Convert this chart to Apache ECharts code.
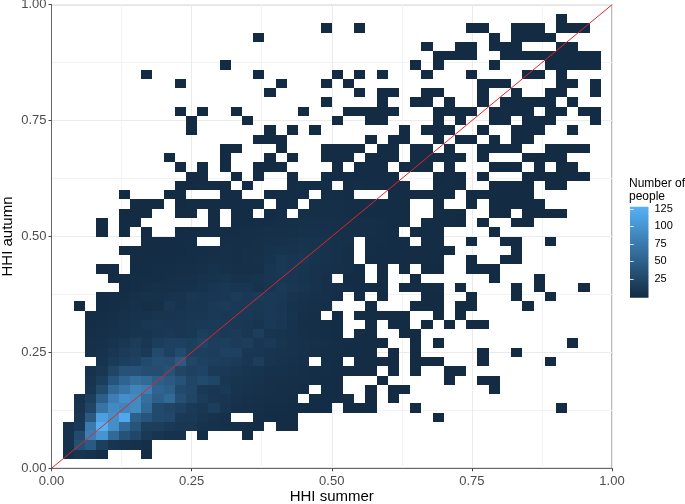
<!DOCTYPE html>
<html>
<head>
<meta charset="utf-8">
<style>html,body{margin:0;background:#fff}#chart{width:685px;height:504px}</style>
<script src="https://cdn.jsdelivr.net/npm/echarts@6/dist/echarts.min.js"></script>
</head>
<body>
<div id="chart"></div>
<script>
// 50 x 50 bins over [0,1]. Each row is a list of runs: [first column, count, count, ...]
var binSize = 0.02;
var row00 = [];
var row01 = [[1,6,10,8,5],[8,2]];
var row02 = [[1,8,35,45,20,10,8,7,5]];
var row03 = [[1,8,30,80,100,60,38,28,14,10,8,8],[13,3],[17,2]];
var row04 = [[1,8,14,75,125,95,60,40,20,18,14,12,12,8,7,6,5,4,3],[20,2,2]];
var row05 = [[2,12,45,110,95,118,50,40,30,28,15,14,10,8,6],[18,4,3,2,2],[34,1]];
var row06 = [[2,10,25,70,90,85,90,60,30,25,22,15,12,18,10,7,6,5,4,4,3,3,3,3],[26,1,1,1],[32,1],[45,1]];
var row07 = [[2,8,20,50,80,95,90,65,50,60,35,25,17,12,11,8,7,6,5,5,4],[23,3,3,2,2],[28,1],[30,1]];
var row08 = [[3,12,30,60,70,85,80,55,50,30,27,14,12,14,9,8,7,6,5,5,4],[24,3,2],[28,1],[30,1,1],[39,1]];
var row09 = [[3,10,18,40,55,65,60,50,45,38,25,30,26,12,10,9,8,6,6,5,5,4,3,2],[29,1],[35,1],[38,1,1]];
var row10 = [[3,8,12,25,38,38,33,33,38,25,22,24,15,14,12,10,9,7,7,6,5,4,4,3,2,2,2],[30,1],[32,1],[35,1,1]];
var row11 = [[4,9,15,20,22,30,35,33,45,25,22,20,18,16,12,18,10,8,7,6],[24,4,3],[27,2,2,2,1],[32,1,1,1],[38,1],[44,1]];
var row12 = [[3,6,8,12,16,19,14,30,22,30,20,20,18,22,22,12,12,10,9,8,7,5,4,4,3,3,2],[30,1],[32,1],[38,1],[41,1]];
var row13 = [[3,6,7,9,12,17,12,18,22,22,20,24,18,20,16,18,12,14,10,8,7,6,5,4,3,3,2,2],[32,1],[34,1],[46,1]];
var row14 = [[3,5,6,7,8,10,10,12,14,12,13,20,16,14,16,12,18,10,9,8,6,5,4,3],[27,2,2],[31,1,1]];
var row15 = [[3,4,5,6,8,9,12,13,12,12,13,14,15,14,13,12,10,14,12,8,5,5,4,3],[28,2],[30,1,1],[33,1],[35,1],[37,1,1]];
var row16 = [[3,4,4,5,7,8,8,10,10,11,12,12,14,13,14,14,12,14,13,9,6,5],[25,3],[27,2,2,2,2,1],[34,1],[36,1]];
var row17 = [[2,1],[4,3,4,5,7,5,6,12,9,11,11,14,16,14,14,13,14,12,8,7,6,5],[28,2],[32,1,1,1],[36,1,1],[42,1]];
var row18 = [[4,3,4,4,6,7,7,8,9,12,11,12,13,16,14,15,14,13,10,8,7,6,4],[27,2],[29,2],[33,1,1],[37,1],[41,1],[44,1]];
var row19 = [[6,3,4,5,6,6,7,7,9,11,13,11,11,8,10,14,12,10,8,6,5,4,3,3,2],[31,1,2,2,2],[36,1],[41,1],[43,1],[47,1]];
var row20 = [[5,2,3,4,4,4,5,6,6,8,9,10,8,8,9,11,12,11,9,8,6],[26,3,3],[29,2],[32,1],[39,1],[43,1]];
var row21 = [[4,1,2],[7,3,3,4,4,5,5,6,8,7,6,6,6,11,13,11,10,8,7,6,5,3],[29,2],[31,2],[33,1,1],[37,1,1,1]];
var row22 = [[7,2,2,3,3,4,4,5,6,6,5,6,7,9,13,11,12,9,8,7,5],[28,3,3,2,2,2,2,2],[37,1],[40,1,1]];
var row23 = [[6,1,2,2,2,3,3,4,4,5,6,5,6,6,8,9,9,10,9,8,7,5],[28,4,3,3,2,2,2,2,1],[41,1]];
var row24 = [[8,2,2,2,3,3],[15,5,5,5,6,7,7,8,9,9,8,7,6],[28,4,4,3,3],[33,2,2],[37,1],[40,1,1],[44,1]];
var row25 = [[4,1],[6,1],[8,1],[11,2,2,3,3,4,4,5,5,6,6,6,7,7,7,6,6,5,5,4,3],[32,1,2,2],[39,1]];
var row26 = [[4,1],[6,1,1],[14,2],[16,3,3,4,4,5,5,6,6,6,6,5,5,5,4,3,2],[33,2,2,2,1],[38,1],[41,1,1]];
var row27 = [[6,1,1,1],[11,2,2],[14,2],[16,2,3],[19,3,4],[22,5,5,5,5,4,4,3,3,3,2],[34,2,2,1],[39,1,1],[42,1,1,1,1]];
var row28 = [[7,1,1,1],[11,1,2,2,2,2,3,3,3],[20,3,4],[23,5,5,5,4,4,4,3,3,2],[34,1],[37,1],[39,1,1,1,1,1]];
var row29 = [[6,1],[10,1,1],[15,2,2],[19,3,3,3,4],[24,4,4,3],[30,3,3,2,2,2,1],[37,1,1,1,1,1,1]];
var row30 = [[11,1,1,2,2,2],[17,2],[21,3,3,3,4],[26,3,4,3,3,2,2],[34,2,2,1],[39,1,1,1,1],[44,1,1]];
var row31 = [[12,1,1],[16,1],[18,2],[21,2],[24,3,3,3,3,3,2,2],[34,1,2,1],[38,1],[42,1,1,1,1,1,1]];
var row32 = [[11,1],[13,1],[15,1],[18,1,1,2],[25,2],[27,3,2,2],[31,2,2,2],[35,2],[39,1,1,1],[43,1],[45,1,1]];
var row33 = [[10,1],[15,1],[19,1],[21,1],[24,2,2,2],[28,2,2,2],[32,2,2,2,3,1],[38,1],[42,1,1,1,1]];
var row34 = [[15,1,1],[20,1],[24,2,2,2,2],[29,1,2],[32,2,2],[35,2],[38,1,1,1,1],[44,1,1,1,1]];
var row35 = [[18,1,1,1],[28,1],[30,1,1],[34,1],[36,1,1],[39,1],[41,1,1]];
var row36 = [[12,1],[19,1],[21,1],[23,1],[31,1],[33,1,1,1],[38,1],[41,1,1,1],[46,1]];
var row37 = [[12,1],[17,1],[25,1],[28,1,1],[34,1],[36,1],[39,1,1],[42,1,1,1],[48,1]];
var row38 = [[11,1],[13,1],[16,1],[22,1],[26,1,1,1,1,1],[34,1,1,1,1],[39,1,2,1,1],[44,1,1],[47,1,1]];
var row39 = [[24,1],[29,1],[32,1,1],[35,1],[38,1],[40,1,1,1,1,1],[46,1]];
var row40 = [[19,1],[27,1],[29,1,1],[33,1,1],[38,1],[41,1],[44,1,1],[48,1]];
var row41 = [[11,1],[20,1],[24,1],[26,1],[38,1,1,1],[45,1,1],[48,1]];
var row42 = [[8,1],[18,1],[25,1],[27,1],[29,1],[33,1],[37,1],[42,1,1],[45,1]];
var row43 = [[15,1],[32,1],[34,1],[39,1],[44,1,2,1,1,1]];
var row44 = [[34,1,1,1,1],[40,1,1,1,1,1,1,1,1,1]];
var row45 = [[33,1],[36,1,1],[39,1,1,1],[45,1,1]];
var row46 = [[18,1],[39,1],[41,1,1,1,1]];
var row47 = [[24,1],[27,1],[37,1,1],[41,1,1,1],[45,1,1,1]];
var row48 = [[45,1]];

var allRows = [row00,row01,row02,row03,row04,row05,row06,row07,row08,row09,
    row10,row11,row12,row13,row14,row15,row16,row17,row18,row19,
    row20,row21,row22,row23,row24,row25,row26,row27,row28,row29,
    row30,row31,row32,row33,row34,row35,row36,row37,row38,row39,
    row40,row41,row42,row43,row44,row45,row46,row47,row48];

var diagonal = [[0,0],[1,1]];
var legendTicks = [25, 50, 75, 100, 125];
var lowColor = '#132B43';
var highColor = '#56B1F7';
var fontName = '"Liberation Sans", Arial, sans-serif';

//把行数据展开成 [x, y, count]
var cells = [];
allRows.forEach(function (runs, r) {
    runs.forEach(function (run) {
        for (var i = 1; i < run.length; i++) {
            cells.push([(run[0] + i - 1) * binSize, r * binSize, run[i]]);
        }
    });
});

//边缘取整，否则相邻格子之间会出现白线
function renderCell(params, api) {
    var p0 = api.coord([api.value(0), api.value(1)]);
    var p1 = api.coord([api.value(0) + binSize, api.value(1) + binSize]);
    var x0 = Math.round(p0[0]), x1 = Math.round(p1[0]);
    var y0 = Math.round(p0[1]), y1 = Math.round(p1[1]);
    return {
        type: 'rect',
        shape: { x: x0, y: y1, width: x1 - x0, height: y0 - y1 },
        style: { fill: api.visual('color') }
    };
}

function renderLegendBar(params, api) {
    var p0 = api.coord([0, api.value(0)]);
    var p1 = api.coord([1, api.value(1)]);
    return {
        type: 'rect',
        shape: { x: p0[0], y: p1[1], width: p1[0] - p0[0], height: p0[1] - p1[1] },
        style: {
            fill: new echarts.graphic.LinearGradient(0, 1, 0, 0, [
                { offset: 0, color: lowColor },
                { offset: 1, color: highColor }
            ])
        }
    };
}

function mainAxis(name, nameGap, labelMargin) {
    return {
        type: 'value',
        min: 0,
        max: 1,
        interval: 0.25,
        name: name,
        nameGap: nameGap,
        nameMoveOverlap: false,
        nameLocation: 'middle',
        nameTextStyle: { color: '#000', fontSize: 15, fontFamily: fontName },
        axisLine: { show: true, onZero: false, lineStyle: { color: '#666', width: 1 } },
        axisTick: { show: true, length: 3, lineStyle: { color: '#444' } },
        axisLabel: {
            color: '#4D4D4D', fontSize: 13, fontFamily: fontName, margin: labelMargin,
            showMinLabel: true, showMaxLabel: true,
            formatter: function (v) { return v.toFixed(2); }
        },
        splitLine: { show: true, lineStyle: { color: '#ebebeb', width: 1 } },
        minorTick: { show: false, splitNumber: 2 },
        minorSplitLine: { show: true, lineStyle: { color: '#f3f3f3', width: 1 } }
    };
}

var chart = echarts.init(document.getElementById('chart'), null, { renderer: 'canvas' });
chart.setOption({
    animation: false,
    backgroundColor: '#fff',
    title: {
        text: 'Number of\npeople',
        left: 629,
        top: 177,
        padding: 0,
        textStyle: { color: '#000', fontSize: 12, fontWeight: 'normal', fontFamily: fontName, lineHeight: 13 }
    },
    grid: [
        { left: 51.5, right: 73, top: 4.7, bottom: 35.7, show: true, borderColor: '#777', borderWidth: 1, backgroundColor: 'transparent', outerBoundsMode: 'none' },
        { left: 630, width: 18.5, top: 206.7, height: 91, outerBoundsMode: 'none' }
    ],
    xAxis: [
        mainAxis('HHI summer', 21, 7),
        { type: 'value', gridIndex: 1, min: 0, max: 1, show: false }
    ],
    yAxis: [
        mainAxis('HHI autumn', 36, 5),
        {
            type: 'value', gridIndex: 1, position: 'right', min: -2, max: 128, z: 5,
            axisLine: { show: false },
            splitLine: { show: false },
            axisTick: { show: true, inside: true, length: 3.7, lineStyle: { color: '#fff', opacity: 0.8 }, customValues: legendTicks },
            axisLabel: { color: '#000', fontSize: 11, fontFamily: fontName, margin: 6, customValues: legendTicks }
        },
        {
            type: 'value', gridIndex: 1, position: 'left', min: -2, max: 128, z: 5,
            axisLine: { show: false },
            splitLine: { show: false },
            axisTick: { show: true, inside: true, length: 3.7, lineStyle: { color: '#fff', opacity: 0.8 }, customValues: legendTicks },
            axisLabel: { show: false }
        }
    ],
    visualMap: {
        show: false,
        type: 'continuous',
        seriesIndex: 0,
        dimension: 2,
        min: 1,
        max: 127,
        inRange: { color: [lowColor, highColor] }
    },
    series: [
        {
            type: 'custom',
            xAxisIndex: 0,
            yAxisIndex: 0,
            data: cells,
            encode: { x: 0, y: 1 },
            renderItem: renderCell,
            z: 2
        },
        {
            type: 'line',
            xAxisIndex: 0,
            yAxisIndex: 0,
            data: diagonal,
            symbol: 'none',
            lineStyle: { color: '#E3242B', width: 1 },
            z: 3
        },
        {
            type: 'custom',
            xAxisIndex: 1,
            yAxisIndex: 1,
            data: [[-2, 128]],
            encode: { y: [0, 1] },
            renderItem: renderLegendBar,
            z: 2
        }
    ]
});
</script>
</body>
</html>
